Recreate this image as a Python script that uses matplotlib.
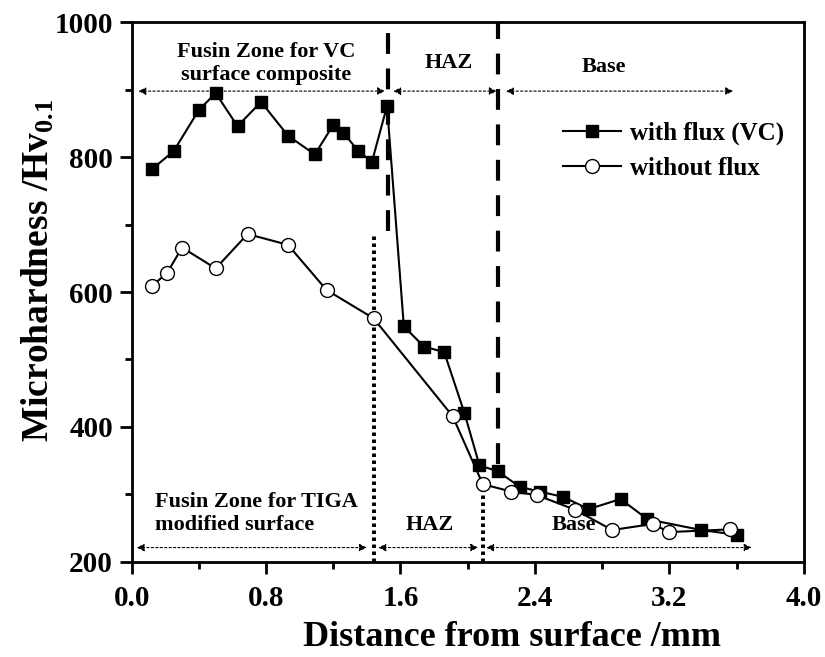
import matplotlib
matplotlib.use("Agg")
from matplotlib import pyplot as plt

# microhardness profiles
x_flux = [0.12, 0.25, 0.40, 0.50, 0.63, 0.77, 0.93, 1.09, 1.20, 1.26, 1.35, 1.43, 1.52,
          1.62, 1.74, 1.86, 1.98, 2.07, 2.18, 2.31, 2.43, 2.57, 2.72, 2.91, 3.07, 3.39, 3.60]
hv_flux = [782, 809, 870, 895, 846, 882, 832, 804, 848, 836, 809, 793, 876,
           549, 519, 511, 421, 343, 334, 311, 304, 296, 278, 293, 263, 247, 240]

x_noflux = [0.12, 0.21, 0.30, 0.50, 0.69, 0.93, 1.16, 1.44, 1.91, 2.09, 2.26, 2.41,
            2.64, 2.86, 3.10, 3.20, 3.56]
hv_noflux = [609, 628, 666, 635, 686, 670, 603, 561, 416, 315, 304, 299,
             277, 247, 256, 244, 248]

# zone boundaries (mm) and their extents (Hv)
vc_bounds = [1.527, 2.182]
vc_bound_bottom = [690, 345]
tiga_bounds = [1.442, 2.089]
tiga_bound_top = [687, 315]

# zone arrows: (start, end)
top_arrows = [(0.04, 1.508), (1.557, 2.173), (2.228, 3.58)]
top_level = 898
bot_arrows = [(0.03, 1.40), (1.468, 2.063), (2.11, 3.69)]
bot_level = 221

plt.rcParams['font.family'] = 'Liberation Serif'
plt.rcParams['font.weight'] = 'bold'
plt.rcParams['mathtext.fontset'] = 'custom'
plt.rcParams['mathtext.rm'] = 'Liberation Serif:bold'
plt.rcParams['mathtext.bf'] = 'Liberation Serif:bold'
plt.rcParams['mathtext.default'] = 'rm'

fig = plt.figure(figsize=(8.25, 6.57), dpi=100)
ax = fig.add_axes([0.1596, 0.145, 0.8146, 0.821])

ax.plot(x_flux, hv_flux, '-s', color='k', lw=1.5, ms=9, mfc='k', label='with flux (VC)')
ax.plot(x_noflux, hv_noflux, '-o', color='k', lw=1.5, ms=10, mfc='white', mew=1.0,
        label='without flux')

for xb, yb in zip(vc_bounds, vc_bound_bottom):
    ax.plot([xb, xb], [yb, 1000], color='k', lw=3, ls=(0, (5, 3.5)), zorder=1)
for xb, yt in zip(tiga_bounds, tiga_bound_top):
    ax.plot([xb, xb], [200, yt], color='k', lw=2.8, ls=(0, (0.9, 0.9)), zorder=1)

arrow_style = dict(arrowstyle='<|-|>', ls=(0, (2, 2)), lw=0.8, color='k',
                   mutation_scale=11, shrinkA=0, shrinkB=0)
for x0, x1 in top_arrows:
    ax.annotate('', xy=(x1, top_level), xytext=(x0, top_level), arrowprops=arrow_style)
for x0, x1 in bot_arrows:
    ax.annotate('', xy=(x1, bot_level), xytext=(x0, bot_level), arrowprops=arrow_style)

ax.text(0.80, 939, 'Fusin Zone for VC\nsurface composite', ha='center', va='center',
        fontsize=16, fontweight='bold', linespacing=1.2)
ax.text(1.885, 940, 'HAZ', ha='center', va='center', fontsize=16, fontweight='bold')
ax.text(2.81, 934, 'Base', ha='center', va='center', fontsize=16, fontweight='bold')
ax.text(0.14, 271, 'Fusin Zone for TIGA\nmodified surface', ha='left', va='center',
        fontsize=16, fontweight='bold', linespacing=1.2)
ax.text(1.777, 254, 'HAZ', ha='center', va='center', fontsize=16, fontweight='bold')
ax.text(2.63, 254, 'Base', ha='center', va='center', fontsize=16, fontweight='bold')

ax.set_xlim(0, 4.0)
ax.set_ylim(200, 1000)
ax.set_xticks([0.0, 0.8, 1.6, 2.4, 3.2, 4.0])
ax.set_xticks([0.4, 1.2, 2.0, 2.8, 3.6], minor=True)
ax.set_yticks([200, 400, 600, 800, 1000])
ax.set_yticks([300, 500, 700, 900], minor=True)
ax.xaxis.set_major_formatter(matplotlib.ticker.FormatStrFormatter('%.1f'))
ax.tick_params(which='major', direction='out', length=8.5, width=2, labelsize=21, pad=5)
ax.tick_params(axis='x', which='major', pad=8)
ax.tick_params(which='minor', direction='out', length=5, width=2)
for s in ax.spines.values():
    s.set_linewidth(2)

ax.set_xlabel('Distance from surface /mm', fontsize=26, fontweight='bold')
ax.xaxis.set_label_coords(0.566, -0.110)
ax.set_ylabel('Microhardness /Hv$_{0.1}$', fontsize=27, fontweight='bold')
ax.yaxis.set_label_coords(-0.112, 0.54)

leg = ax.legend(loc='upper left', bbox_to_anchor=(0.609, 0.857), frameon=False,
                handlelength=2.3, handletextpad=0.35, labelspacing=0.45,
                prop={'weight': 'bold', 'size': 18})

fig.savefig('out.png', dpi=100)
